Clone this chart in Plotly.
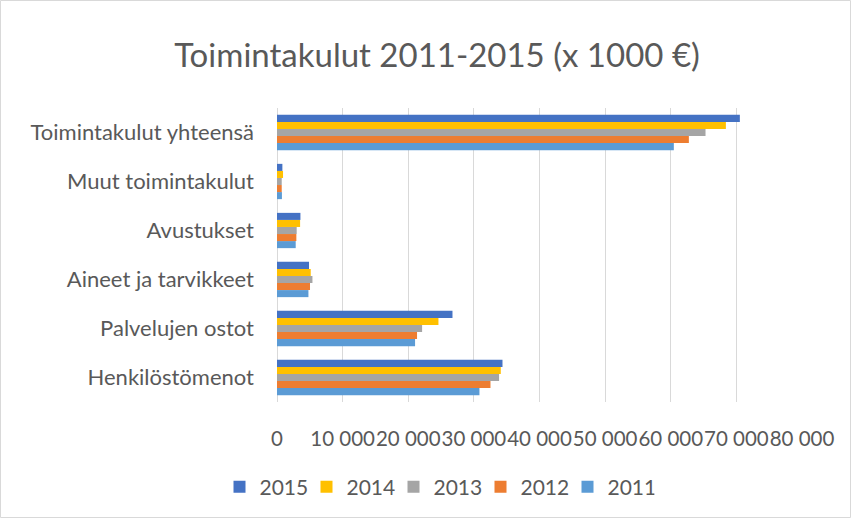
import plotly.graph_objects as go

categories = ["Henkilöstömenot", "Palvelujen ostot", "Aineet ja tarvikkeet",
              "Avustukset", "Muut toimintakulut", "Toimintakulut yhteensä"]
years = ["2011", "2012", "2013", "2014", "2015"]
v2011 = [30850, 21040, 4790, 2850, 750, 60470]
v2012 = [32530, 21340, 5030, 2950, 720, 62760]
v2013 = [33840, 22110, 5400, 3000, 720, 65300]
v2014 = [34100, 24600, 5140, 3520, 920, 68400]
v2015 = [34360, 26740, 4880, 3570, 820, 70530]
series = [v2011, v2012, v2013, v2014, v2015]
colors = ["#5B9BD5", "#ED7D31", "#A5A5A5", "#FFC000", "#4472C4"]
tick_vals = [0, 10000, 20000, 30000, 40000, 50000, 60000, 70000, 80000]
tick_text = ["0", "10 000", "20 000", "30 000", "40 000", "50 000", "60 000", "70 000", "80 000"]

FONT = "Lato, Carlito, Calibri, sans-serif"
GRAY = "#595959"
FS = 22

fig = go.Figure()
for y, vals, c in zip(years, series, colors):
    fig.add_trace(go.Bar(y=categories, x=vals, name=y, orientation="h",
                         marker=dict(color=c, line=dict(width=0))))

W, H = 852, 519
L, R, T, B = 277, 50, 108, 117
pw, ph = W - L - R, H - T - B

fig.update_layout(
    width=W, height=H,
    margin=dict(l=L, r=R, t=T, b=B, autoexpand=False),
    paper_bgcolor="white", plot_bgcolor="white",
    barmode="group", bargap=0.28, bargroupgap=0,
    font=dict(family=FONT, color=GRAY, size=FS),
    title=dict(text="Toimintakulut 2011-2015 (x 1000 €)", xref="container", x=437/W,
               xanchor="center", yref="container", y=1 - 55/H, yanchor="middle",
               font=dict(size=33, color=GRAY, family=FONT)),
    xaxis=dict(range=[0, 80000], tickvals=tick_vals, ticktext=tick_text, tickangle=0,
               showgrid=True, gridcolor="#D9D9D9", gridwidth=1, zeroline=True,
               zerolinecolor="#D9D9D9", zerolinewidth=1, ticks="", showline=False,
               ticklabelstandoff=22, tickfont=dict(size=20.5, color=GRAY), automargin=False),
    yaxis=dict(categoryorder="array", categoryarray=categories, showgrid=False,
               ticks="", showline=False, ticklabelstandoff=22,
               tickfont=dict(size=FS, color=GRAY), automargin=False),
    legend=dict(orientation="h", traceorder="reversed", xref="container",
                x=437/W, xanchor="center", yref="container", y=1 - 487/H, yanchor="middle",
                font=dict(size=21, color=GRAY), itemwidth=30, itemsizing="constant",
                entrywidth=42, entrywidthmode="pixels"),
    shapes=[dict(type="rect", xref="paper", yref="paper",
                 x0=(0.5 - L)/pw, x1=(W - 1.5 - L)/pw,
                 y0=(H - B - (H - 1.5))/ph, y1=(H - B - 0.5)/ph,
                 line=dict(color="#D9D9D9", width=1), layer="below")],
)

fig.write_html("out.html", config={"displayModeBar": False},
               post_script="document.body.style.margin='0';")
